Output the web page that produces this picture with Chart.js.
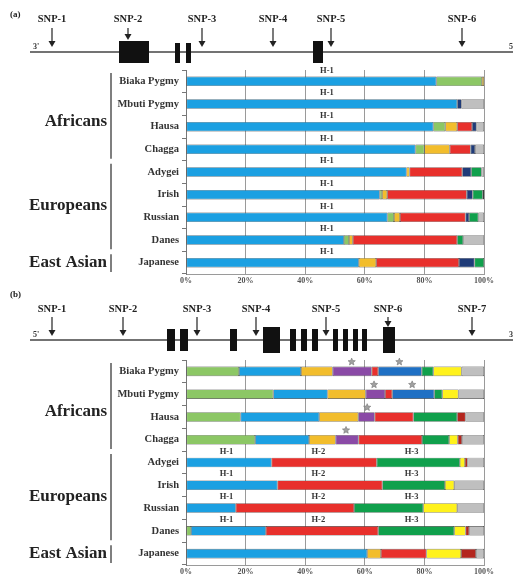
<!DOCTYPE html>
<html><head><meta charset="utf-8">
<script src="https://cdn.jsdelivr.net/npm/chart.js@4"></script>
<style>
html,body{margin:0;padding:0;background:#fff;}
#wrap{position:relative;width:513px;height:576px;overflow:hidden;}
canvas{position:absolute;left:0;}
</style></head><body>
<div id="wrap">
<canvas id="ca" width="513" height="290" style="top:0;width:513px;height:290px"></canvas>
<canvas id="cb" width="513" height="286" style="top:290px;width:513px;height:286px"></canvas>
</div>
<script>
// ---------- DATA ----------
const populations = ["Biaka Pygmy","Mbuti Pygmy","Hausa","Chagga","Adygei","Irish","Russian","Danes","Japanese"];
const groups = ["Africans","Europeans","East Asian"];
const groupRanges = [[0,3],[4,7],[8,8]];
const xTicks = [0,20,40,60,80,100];

// Panel (a) haplotype frequencies (%)
const aBlue   = [84, 91, 83, 77, 74, 65, 67.6, 53, 58];
const aLGreen = [15.3, null, 4, 3, null, 0.8, 2.2, 1.7, null];
const aYellow = [0.7, null, 4, 8.5, 1, 1.7, 2, 1.3, 5.8];
const aRed    = [null, null, 5, 7, 17.7, 26.7, 22, 35, 27.8];
const aNavy   = [null, 1.5, 1.5, 1.5, 3, 2, 1.2, null, 5.2];
const aGreen  = [null, null, null, null, 3.5, 3.4, 3.1, 2, 3.2];
const aGray   = [null, 7.5, 2.5, 3, 0.8, 0.4, 1.9, 7, null];
const aHapLabels = [{text:"H-1", x:47.3}];

// Panel (b) haplotype frequencies (%)
const bLGreen = [17.8, 29.3, 18.3, 23.2, null, null, null, 1.7, null];
const bBlue   = [20.8, 18.2, 26.4, 18.1, 28.7, 30.7, 16.7, 25.1, 60.8];
const bOrange = [10.6, 12.8, 13.1, 8.9, null, null, null, null, 4.6];
const bPurple = [13.1, 6.5, 5.5, 7.7, null, null, null, null, null];
const bRed    = [2.2, 2.4, 13, 21.3, 35.3, 35.2, 39.7, 37.7, 15.3];
const bDBlue  = [14.6, 14.1, null, null, null, null, null, null, null];
const bGreen  = [3.9, 2.7, 14.7, 9.1, 27.9, 21, 23.2, 25.5, null];
const bYellow = [9.5, 5.4, null, 2.9, 1.7, 3.1, 11.4, 3.8, 11.6];
const bDRed   = [null, null, 2.8, 1.4, 0.9, null, null, 1.2, 5];
const bGray   = [7.5, 8.6, 6.2, 7.4, 5.5, 10, 9, 5, 2.7];
const bStars  = [{row:0,x:55.6},{row:0,x:71.6},{row:1,x:63.1},{row:1,x:75.9},{row:2,x:60.8},{row:3,x:53.7}];
const bHapLabels = [{text:"H-1",x:13.6},{text:"H-2",x:44.4},{text:"H-3",x:75.7}];
const bHapRows = [4,5,6,7];

// Gene diagrams (SNP names & positions along the drawn line, in px of the figure)
const aSNPs = ["SNP-1","SNP-2","SNP-3","SNP-4","SNP-5","SNP-6"];
const aSNPx = [52,128,202,273,331,462];
const bSNPs = ["SNP-1","SNP-2","SNP-3","SNP-4","SNP-5","SNP-6","SNP-7"];
const bSNPx = [52,123,197,256,326,388,472];

// ---------- STYLE / LAYOUT ----------
const C = {
  blue:'#1ba0e2', lgreen:'#8cc765', orange:'#f2bd2c', red:'#e8302c', navy:'#1f3b78',
  green:'#10a04c', gray:'#bfbfbf', purple:'#8a4aa6', dblue:'#1f70c4', yellow:'#fff21c', dred:'#b3261e'
};
const SERIF = '"Liberation Serif","DejaVu Serif",serif';
const geneA = {lineY:52, arrowTop:28, arrowTip:47, labelY:19, prime:"3'", primeEnd:"5'",
  exons:[[119,41,30,22],[175,43,5,20],[186,43,5,20],[313,41,10,22]], shortArrow:{1:40}};
const geneB = {lineY:340, arrowTop:317, arrowTip:336, labelY:309, prime:"5'", primeEnd:"3'",
  exons:[[167,329,8,22],[180,329,8,22],[230,329,7,22],[263,327,17,26],[290,329,6,22],[301,329,6,22],[312,329,6,22],[333,329,5,22],[343,329,5,22],[353,329,5,22],[362,329,5,22],[383,327,12,26]], shortArrow:{5:327}};

function ds(label, data, color){
  return {label, data, backgroundColor:color, borderColor:'#3c3c3c', borderWidth:0.6, borderSkipped:false,
          barPercentage:0.42, categoryPercentage:1};
}

function drawGene(ctx, g, names, xs, offY){
  ctx.save();
  ctx.translate(0, -offY);
  ctx.strokeStyle='#444'; ctx.lineWidth=1.6;
  ctx.beginPath(); ctx.moveTo(30,g.lineY); ctx.lineTo(513,g.lineY); ctx.stroke();
  ctx.fillStyle='#111';
  g.exons.forEach(e=>ctx.fillRect(e[0],e[1],e[2],e[3]));
  ctx.font='bold 8px '+SERIF; ctx.fillStyle='#333'; ctx.textAlign='left'; ctx.textBaseline='alphabetic';
  ctx.fillText(g.prime, 33, g.lineY-3);
  ctx.fillText(g.primeEnd, 509, g.lineY-3);
  ctx.font='bold 10.5px '+SERIF; ctx.textAlign='center'; ctx.textBaseline='middle'; ctx.fillStyle='#222';
  names.forEach((n,i)=>{
    const x=xs[i];
    ctx.fillText(n, x, g.labelY);
    const tip = (g.shortArrow[i]!==undefined)? g.shortArrow[i] : g.arrowTip;
    ctx.strokeStyle='#222'; ctx.lineWidth=1.2;
    ctx.beginPath(); ctx.moveTo(x,g.arrowTop); ctx.lineTo(x,tip-3); ctx.stroke();
    ctx.beginPath(); ctx.moveTo(x-3.5,tip-6); ctx.lineTo(x+3.5,tip-6); ctx.lineTo(x,tip); ctx.closePath(); ctx.fill();
  });
  ctx.restore();
}

function drawStar(ctx,cx,cy,r){
  ctx.beginPath();
  for(let i=0;i<10;i++){
    const rr = i%2===0? r : r*0.45;
    const a = -Math.PI/2 + i*Math.PI/5;
    ctx.lineTo(cx+rr*Math.cos(a), cy+rr*Math.sin(a));
  }
  ctx.closePath();
  ctx.fillStyle='#a0a0a0'; ctx.fill();
  ctx.strokeStyle='#777'; ctx.lineWidth=0.6; ctx.stroke();
}

function decoPlugin(opts){
  return {
    id:'deco'+opts.tag,
    afterDraw(chart){
      const ctx=chart.ctx, xs=chart.scales.x, ys=chart.scales.y;
      const step = ys.getPixelForValue(1)-ys.getPixelForValue(0);
      // panel label
      ctx.save();
      ctx.font='bold 9px '+SERIF; ctx.fillStyle='#222'; ctx.textAlign='left'; ctx.textBaseline='middle';
      ctx.fillText(opts.tag, 10, opts.tagY);
      ctx.restore();
      drawGene(ctx, opts.gene, opts.snps, opts.snpx, opts.offY);
      // group brackets and labels
      ctx.save();
      groups.forEach((gname,gi)=>{
        const [s,e]=groupRanges[gi];
        const top=ys.getPixelForValue(s)-step/2, bot=ys.getPixelForValue(e)+step/2;
        ctx.strokeStyle='#555'; ctx.lineWidth=1.5;
        ctx.beginPath(); ctx.moveTo(111, top+3); ctx.lineTo(111, bot-2); ctx.stroke();
        ctx.font='bold 17px '+SERIF; ctx.fillStyle='#222'; ctx.textAlign='right'; ctx.textBaseline='middle';
        ctx.fillText(gname, 107, (top+bot)/2 + (gi===0?6:0));
      });
      // haplotype labels
      ctx.font='bold 8.5px '+SERIF; ctx.fillStyle='#333'; ctx.textAlign='center'; ctx.textBaseline='middle';
      opts.hapRows.forEach(r=>{
        const y=ys.getPixelForValue(r)-11;
        opts.hapLabels.forEach(h=>ctx.fillText(h.text, xs.getPixelForValue(h.x), y));
      });
      // stars
      (opts.stars||[]).forEach(s=>{
        drawStar(ctx, xs.getPixelForValue(s.x), ys.getPixelForValue(s.row)-9.5, 3.8);
      });
      ctx.restore();
    }
  };
}

function makeChart(id, datasets, xHeight, plugin){
  return new Chart(document.getElementById(id), {
    type:'bar',
    data:{labels:populations, datasets},
    options:{
      indexAxis:'y', responsive:false, animation:false, devicePixelRatio:1,
      layout:{padding:{top:70,right:29,left:0,bottom:0}},
      plugins:{legend:{display:false}, tooltip:{enabled:false}},
      scales:{
        x:{stacked:true, min:0, max:100, afterBuildTicks(s){s.ticks=xTicks.map(v=>({value:v}));},
           ticks:{callback:v=>v+'%', font:{family:SERIF,size:8,weight:'bold'}, color:'#555', padding:2, maxRotation:0},
           grid:{color:'#9a9a9a', lineWidth:1, drawTicks:false},
           border:{display:true,color:'#9a9a9a'},
           afterFit(s){s.height=xHeight;}},
        y:{stacked:true,
           ticks:{font:{family:SERIF,size:10.5,weight:'bold'}, color:'#333', padding:3},
           grid:{offset:true, drawOnChartArea:false, drawTicks:true, tickLength:4, color:'#777'},
           border:{display:true,color:'#777'},
           afterFit(s){s.width=186;}}
      }
    },
    plugins:[plugin]
  });
}

makeChart('ca', [
  ds('H-1',aBlue,C.blue), ds('lg',aLGreen,C.lgreen), ds('yo',aYellow,C.orange), ds('red',aRed,C.red),
  ds('navy',aNavy,C.navy), ds('green',aGreen,C.green), ds('gray',aGray,C.gray)
], 16, decoPlugin({tag:'(a)', tagY:15, gene:geneA, snps:aSNPs, snpx:aSNPx, offY:0,
  hapLabels:aHapLabels, hapRows:[0,1,2,3,4,5,6,7,8]}));

makeChart('cb', [
  ds('lg',bLGreen,C.lgreen), ds('blue',bBlue,C.blue), ds('yo',bOrange,C.orange), ds('pur',bPurple,C.purple),
  ds('red',bRed,C.red), ds('db',bDBlue,C.dblue), ds('green',bGreen,C.green), ds('yel',bYellow,C.yellow),
  ds('dred',bDRed,C.dred), ds('gray',bGray,C.gray)
], 11, decoPlugin({tag:'(b)', tagY:5, gene:geneB, snps:bSNPs, snpx:bSNPx, offY:290,
  hapLabels:bHapLabels, hapRows:bHapRows, stars:bStars}));
</script>
</body></html>
